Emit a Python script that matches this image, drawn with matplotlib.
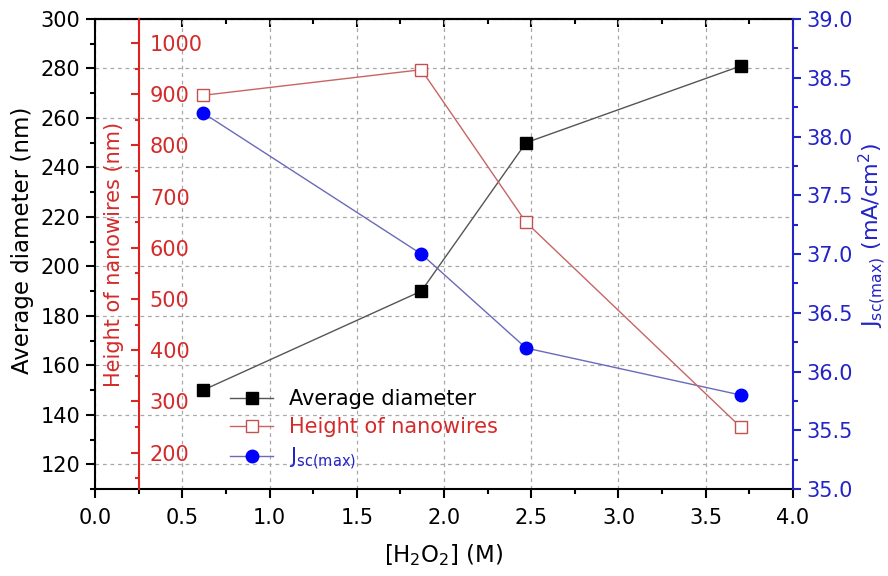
import numpy as np
import matplotlib
matplotlib.use("Agg")
import matplotlib.pyplot as plt
from matplotlib.ticker import MultipleLocator

plt.rcParams['font.family'] = ['DejaVu Sans']
plt.rcParams['mathtext.default'] = 'regular'

# data
h2o2 = [0.62, 1.87, 2.47, 3.70]
diameter = [150, 190, 250, 281]
height = [898, 948, 650, 250]
jsc = [38.2, 37.0, 36.2, 35.8]

RED = '#d42a2a'
BLUE = '#2323c8'
FS = 15
LFS = 16.5

fig = plt.figure(figsize=(8.88, 5.76), dpi=100)
ax = fig.add_axes([0.107, 0.151, 0.786, 0.816])

# left axis: average diameter
l1, = ax.plot(h2o2, diameter, color='#555555', lw=1.0, marker='s', ms=8,
              mfc='black', mec='black', label='Average diameter', zorder=3)
ax.set_xlim(0, 4)
ax.set_ylim(110, 300)
ax.xaxis.set_major_locator(MultipleLocator(0.5))
ax.xaxis.set_minor_locator(MultipleLocator(0.25))
ax.yaxis.set_major_locator(MultipleLocator(20))
ax.yaxis.set_minor_locator(MultipleLocator(10))
ax.tick_params(axis='both', which='major', direction='out', length=6.5, width=1.5,
               labelsize=FS, pad=4)
ax.tick_params(axis='x', which='major', pad=7)
ax.tick_params(axis='both', which='minor', direction='out', length=3.5, width=1.5)
ax.set_xticks(np.arange(0, 4.01, 0.5))
ax.set_xticklabels(['%.1f' % v for v in np.arange(0, 4.01, 0.5)])
ax.grid(True, which='major', color='#a8a8a8', ls=(0, (3, 3)), lw=0.9)
for s in ['left', 'bottom', 'top']:
    ax.spines[s].set_linewidth(1.5)
ax.spines['right'].set_visible(False)
ax.set_ylabel('Average diameter (nm)', fontsize=LFS)
ax.yaxis.set_label_coords(-0.088, 0.53)
ax.set_xlabel('[H$_2$O$_2$] (M)', fontsize=LFS, labelpad=10)

# top ticks pointing in
top = ax.secondary_xaxis('top')
top.xaxis.set_major_locator(MultipleLocator(0.5))
top.xaxis.set_minor_locator(MultipleLocator(0.25))
top.tick_params(which='major', direction='in', length=6, width=1.5, labeltop=False)
top.tick_params(which='minor', direction='in', length=3.5, width=1.5)
top.spines['top'].set_linewidth(1.5)

# right axis: Jsc
axj = ax.twinx()
l3, = axj.plot(h2o2, jsc, color='#6a6ab8', lw=1.0, marker='o', ms=9,
               mfc='#0000ff', mec='#0000ff', label='J$_{sc(max)}$', zorder=3)
axj.set_ylim(35, 39)
axj.yaxis.set_major_locator(MultipleLocator(0.5))
axj.yaxis.set_minor_locator(MultipleLocator(0.25))
axj.yaxis.set_major_formatter(plt.FormatStrFormatter('%.1f'))
axj.tick_params(axis='y', which='major', direction='out', length=6, width=1.5,
                colors=BLUE, labelsize=FS, pad=4)
axj.tick_params(axis='y', which='minor', direction='out', length=3.5, width=1.5,
                colors=BLUE)
for s in ['left', 'top', 'bottom']:
    axj.spines[s].set_visible(False)
axj.spines['right'].set_color(BLUE)
axj.spines['right'].set_linewidth(1.5)
axj.set_ylabel('J$_{sc(max)}$ (mA/cm$^2$)', fontsize=16, color=BLUE)
axj.yaxis.set_label_coords(1.09, 0.54)

# inner red axis: height of nanowires
axh = ax.twinx()
l2, = axh.plot(h2o2, height, color='#c86464', lw=1.0, marker='s', ms=8,
               mfc='white', mec='#c45050', mew=1.0,
               label='Height of nanowires', zorder=3)
axh.set_ylim(129, 1047)
axh.yaxis.set_major_locator(MultipleLocator(100))
axh.yaxis.set_minor_locator(MultipleLocator(50))
axh.spines['right'].set_position(('data', 0.25))
axh.spines['right'].set_color('#e02020')
axh.spines['right'].set_linewidth(1.5)
for s in ['left', 'top', 'bottom']:
    axh.spines[s].set_visible(False)
axh.tick_params(axis='y', which='major', direction='in', length=5.5, width=1.5,
                colors=RED, labelsize=FS, pad=8)
axh.tick_params(axis='y', which='minor', direction='in', length=3, width=1.5,
                colors=RED)
axh.set_yticks(np.arange(200, 1001, 100))
axh.set_ylabel('Height of nanowires (nm)', fontsize=FS, color=RED)
axh.yaxis.set_label_coords(0.013, 0.5)

leg = axh.legend(handles=[l1, l2, l3], loc='upper left',
                 bbox_to_anchor=(0.172, 0.243), frameon=False, fontsize=FS,
                 handlelength=2.1, handletextpad=0.75, labelspacing=0.38,
                 borderpad=0.2)
for t, c in zip(leg.get_texts(), ['black', RED, BLUE]):
    t.set_color(c)

fig.savefig('out.png', dpi=100)
